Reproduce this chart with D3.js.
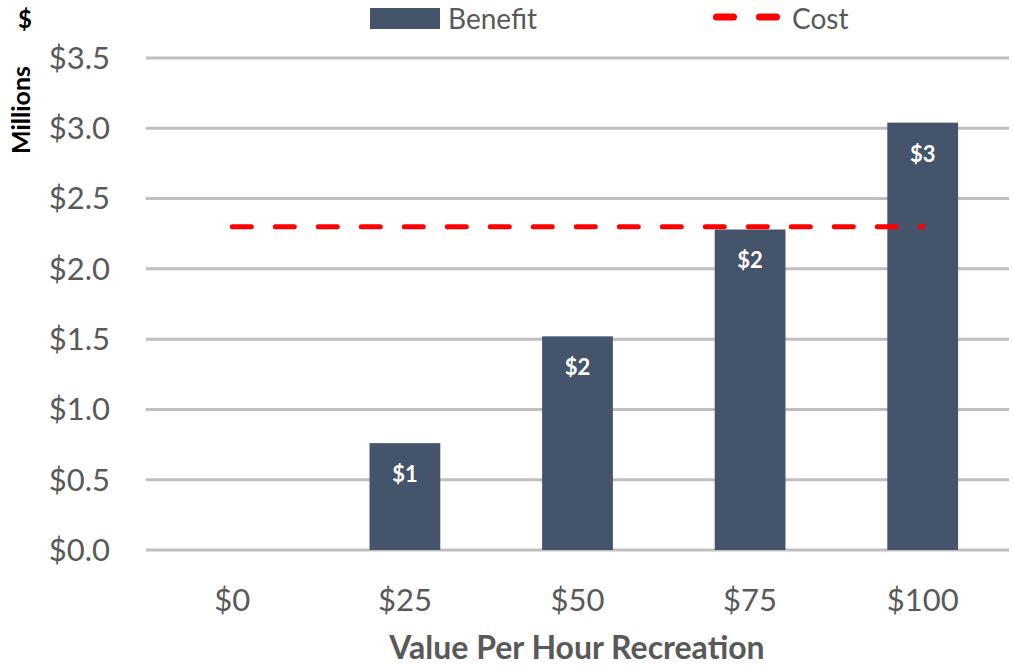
<!DOCTYPE html>
<html>
<head>
<meta charset="utf-8">
<script src="https://cdn.jsdelivr.net/npm/d3@7"></script>
<style>
  html, body { margin: 0; padding: 0; background: #fff; }
  text { font-family: Lato, "Open Sans", sans-serif; }
</style>
</head>
<body>
<svg id="chart" width="1013" height="667"></svg>
<script>
// data (millions of $)
const categories = ['$0', '$25', '$50', '$75', '$100'];
const benefit = [0, 0.76, 1.52, 2.28, 3.04];
const benefitLabels = ['', '$1', '$2', '$2', '$3'];
const cost = [2.3, 2.3, 2.3, 2.3, 2.3];
const yTicks = [0, 0.5, 1, 1.5, 2, 2.5, 3, 3.5];

const svg = d3.select('#chart');
const plotL = 146, plotR = 1009, plotT = 58, plotB = 550;

const x = d3.scaleBand().domain(categories).range([plotL, plotR]).padding(0);
const y = d3.scaleLinear().domain([0, 3.5]).range([plotB, plotT]);
const barW = x.bandwidth() * 0.41;

const grey = '#595959';

// gridlines
svg.append('g')
  .selectAll('line')
  .data(yTicks)
  .join('line')
  .attr('x1', plotL).attr('x2', plotR)
  .attr('y1', d => y(d)).attr('y2', d => y(d))
  .attr('stroke', '#bfbfbf').attr('stroke-width', 3);

// y axis labels
svg.append('g')
  .selectAll('text')
  .data(yTicks)
  .join('text')
  .attr('x', 110).attr('y', d => y(d))
  .attr('dy', '0.35em')
  .attr('text-anchor', 'end')
  .attr('font-size', 31)
  .attr('fill', grey)
  .text(d => '$' + d3.format('.1f')(d));

// bars
svg.append('g')
  .selectAll('rect')
  .data(benefit)
  .join('rect')
  .attr('x', (d, i) => x(categories[i]) + (x.bandwidth() - barW) / 2)
  .attr('y', d => y(d))
  .attr('width', barW)
  .attr('height', d => plotB - y(d))
  .attr('fill', '#44546a');

// bar labels
svg.append('g')
  .selectAll('text')
  .data(benefit)
  .join('text')
  .attr('x', (d, i) => x(categories[i]) + x.bandwidth() / 2)
  .attr('y', d => y(d) + 39)
  .attr('text-anchor', 'middle')
  .attr('font-size', 22)
  .attr('font-weight', 'bold')
  .attr('fill', '#fff')
  .text((d, i) => benefitLabels[i]);

// cost line
const line = d3.line()
  .x((d, i) => x(categories[i]) + x.bandwidth() / 2)
  .y(d => y(d));
svg.append('path')
  .datum(cost)
  .attr('d', line)
  .attr('fill', 'none')
  .attr('stroke', '#ff0000')
  .attr('stroke-width', 5)
  .attr('stroke-linecap', 'round')
  .attr('stroke-dasharray', '19,24');

// x labels
svg.append('g')
  .selectAll('text')
  .data(categories)
  .join('text')
  .attr('x', d => x(d) + x.bandwidth() / 2)
  .attr('y', 611)
  .attr('text-anchor', 'middle')
  .attr('font-size', 31)
  .attr('fill', grey)
  .text(d => d);

// x title
svg.append('text')
  .attr('x', 577).attr('y', 659)
  .attr('text-anchor', 'middle')
  .attr('font-size', 32)
  .attr('font-weight', 'bold')
  .attr('fill', grey)
  .text('Value Per Hour Recreation');

// units
svg.append('text')
  .attr('x', 25).attr('y', 28)
  .attr('text-anchor', 'middle')
  .attr('font-size', 24)
  .attr('font-weight', 'bold')
  .attr('fill', '#000')
  .text('$');
svg.append('text')
  .attr('transform', 'translate(30,110) rotate(-90)')
  .attr('text-anchor', 'middle')
  .attr('font-size', 25)
  .attr('font-weight', 'bold')
  .attr('fill', '#000')
  .text('Millions');

// legend
const lg = svg.append('g');
lg.append('rect').attr('x', 370).attr('y', 8).attr('width', 70).attr('height', 21).attr('fill', '#44546a');
lg.append('text').attr('x', 448).attr('y', 29).attr('font-size', 28).attr('fill', grey).text('Benefit');
lg.append('line').attr('x1', 716.5).attr('x2', 776.5).attr('y1', 17).attr('y2', 17)
  .attr('stroke', '#ff0000').attr('stroke-width', 7).attr('stroke-linecap', 'round')
  .attr('stroke-dasharray', '17,26');
lg.append('text').attr('x', 792).attr('y', 29).attr('font-size', 28).attr('fill', grey).text('Cost');
</script>
</body>
</html>
